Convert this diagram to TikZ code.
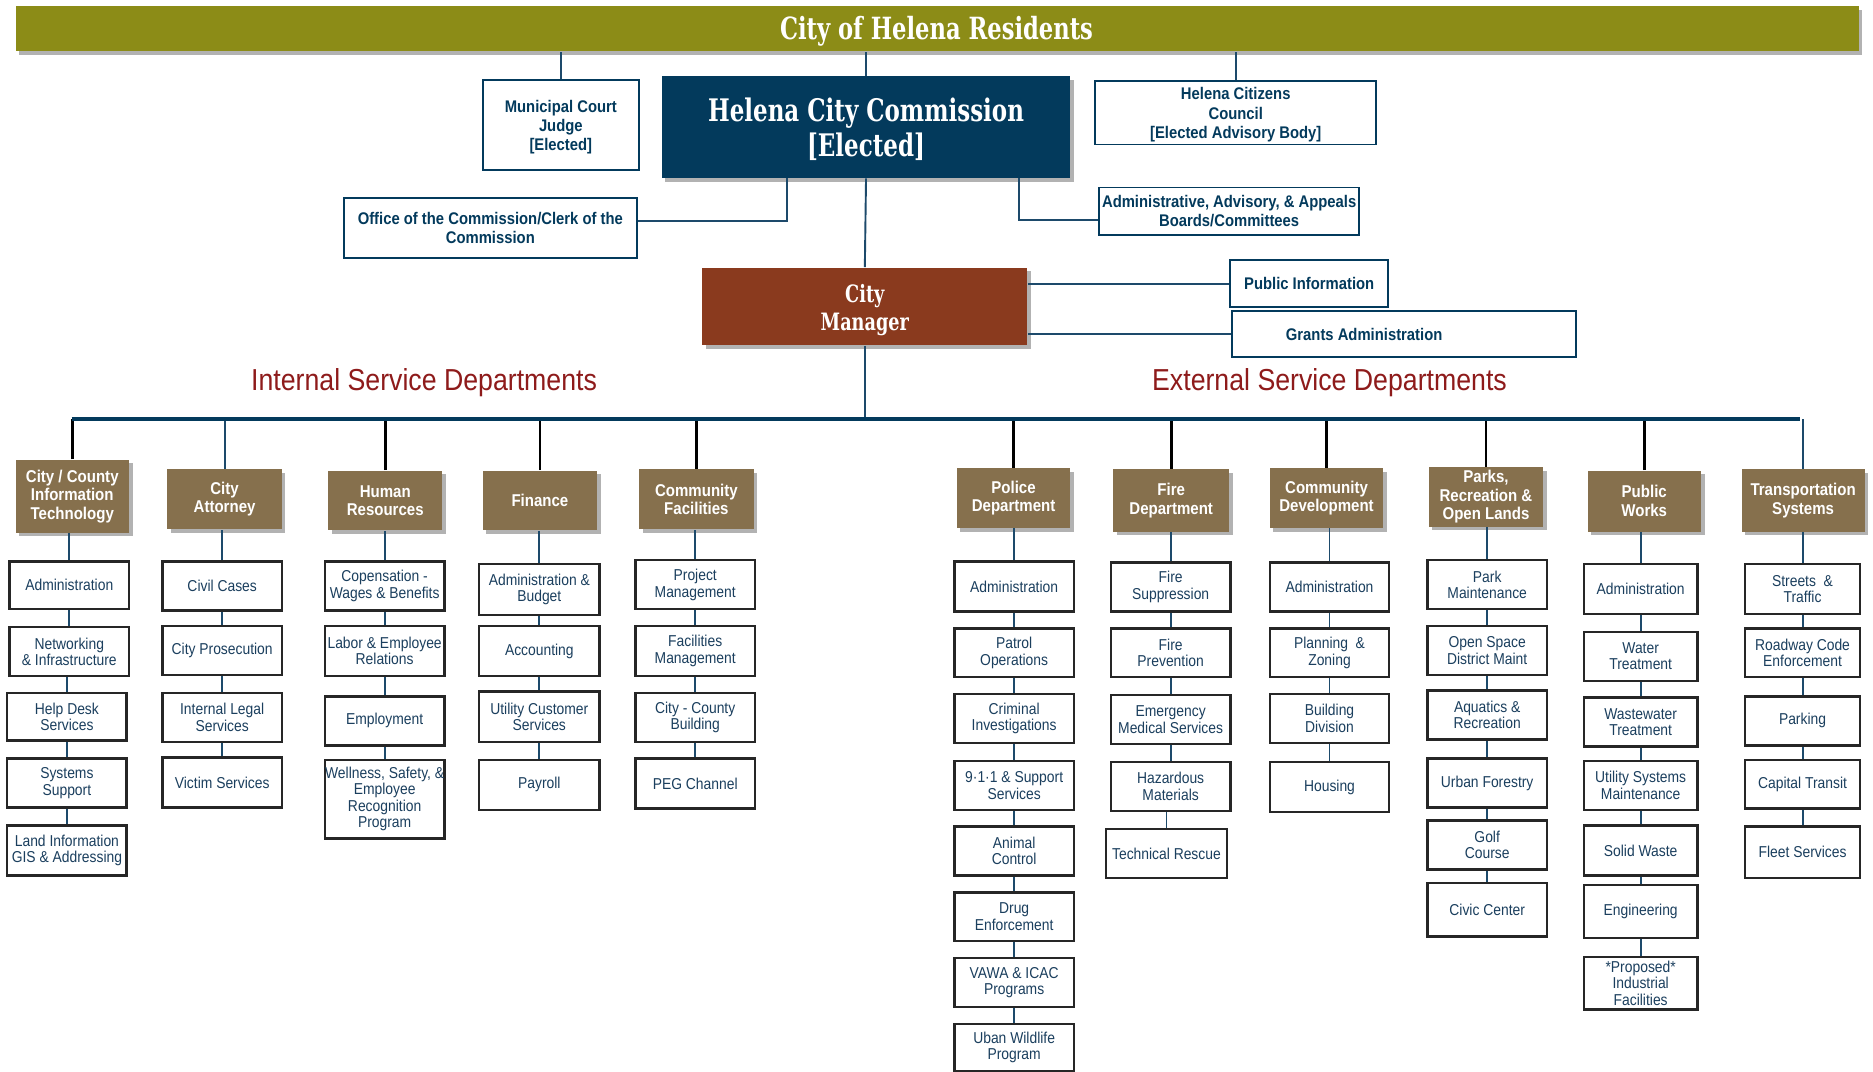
\documentclass[tikz,border=0pt]{standalone}
\usepackage{fontspec}
\setmainfont[FakeStretch=0.88]{Liberation Sans}
\newfontfamily\slab[FakeStretch=0.74]{DejaVu Serif}
\usetikzlibrary{shadows}
\definecolor{hOlive}{HTML}{8C8C17}
\definecolor{hNavy}{HTML}{033A5C}
\definecolor{hRust}{HTML}{8A3A1E}
\definecolor{hBrown}{HTML}{86704D}
\definecolor{hRed}{HTML}{8E1B1B}
\definecolor{tNavy}{HTML}{1B3F5E}
\definecolor{cNavy}{HTML}{1D4A6B}
\newcommand\mkbox[7]{\node[#1, minimum width={(#5-#3)*0.5pt}, minimum height={(#6-#4)*0.5pt}] (#2) at ({(#3+#5)/2},{(#4+#6)/2}) {#7};}
\tikzset{
  shad/.style={drop shadow={shadow xshift=1.5pt,shadow yshift=-1.5pt,opacity=0.3,fill=black}},
  sub/.style={draw=black!85, line width=1pt, fill=white, text=tNavy, align=center, inner sep=0pt,
    font=\fontsize{6.6}{6.9}\selectfont},
  hdr/.style={shad, fill=hBrown, text=white, align=center, inner sep=0pt,
    font=\bfseries\fontsize{7.15}{7.75}\selectfont},
  topbox/.style={draw=hNavy, line width=0.8pt, fill=white, text=hNavy, align=center, inner sep=0pt,
    font=\bfseries\fontsize{7.05}{8}\selectfont},
  toptext/.style={text=hNavy, align=center, inner sep=0pt, font=\bfseries\fontsize{7.05}{8}\selectfont},
  conn/.style={draw=cNavy, line width=0.8pt},
  drop/.style={draw=black, line width=1.1pt},
  dropn/.style={draw=cNavy, line width=0.8pt},
  bus/.style={draw=hNavy, line width=1.6pt},
  sect/.style={text=hRed, font=\fontsize{12.7}{14}\selectfont},
}
\begin{document}
\begin{tikzpicture}[x=0.5pt,y=-0.5pt]
\useasboundingbox (0,0) rectangle (1568,897);
% banner
\mkbox{shad, fill=hOlive, inner sep=0pt}{banner}{13}{5}{1556}{43}{}
\node[text=white, inner sep=0pt, font=\slab\bfseries\fontsize{12.8}{14}\selectfont] (bannerT) at (784,26) {City of Helena Residents};
% top boxes
\mkbox{topbox}{judge}{404}{67}{535}{142}{}
\node[toptext] (judgeT) at (469.5,106.5) {Municipal Court\\Judge\\{}[Elected]};
\mkbox{shad, fill=hNavy, inner sep=0pt}{comm}{554}{64}{896}{149}{}
\node[text=white, align=center, inner sep=0pt, font=\slab\bfseries\fontsize{13}{14.5}\selectfont] (commT) at (725,108) {Helena City Commission\\{}[Elected]};
\mkbox{topbox}{council}{917}{68}{1152}{121}{}
\node[toptext] (councilT) at (1034.5,96) {Helena Citizens\\Council\\{}[Elected Advisory Body]};
\mkbox{topbox}{office}{288}{166}{533}{216}{Office of the Commission/Clerk of the\\Commission}
\mkbox{topbox}{boards}{920}{157}{1138}{197}{Administrative, Advisory, \& Appeals\\Boards/Committees}
\mkbox{shad, fill=hRust, inner sep=0pt}{mgr}{588}{224}{860}{289}{}
\node[text=white, align=center, inner sep=0pt, font=\slab\bfseries\fontsize{10}{12}\selectfont] (mgrT) at (724,259.5) {City\\Manager};
\mkbox{topbox}{pubinfo}{1030}{218}{1162}{257}{Public Information}
\mkbox{topbox}{grants}{1031}{260}{1319}{299}{}
\node[toptext] (grantsT) at (1142,280) {Grants Administration};
% top connectors
\draw[conn] (judge.north) -- (judge.north |- banner.south);
\draw[conn] (comm.north) -- (comm.north |- banner.south);
\draw[conn] (council.north) -- (council.north |- banner.south);
\draw[conn] ([xshift=-33pt]comm.south) |- ([yshift=3pt]office.east);
\draw[conn] ([xshift=64pt]comm.south) |- ([yshift=-3.5pt]boards.west);
\draw[conn] (comm.south) -- (mgr.north);
\draw[conn] (mgr.east |- pubinfo.west) -- (pubinfo.west);
\draw[conn] (mgr.east |- grants.west) -- (grants.west);
% section labels
\node[sect] (intl) at (355,320) {Internal Service Departments};
\node[sect] (extl) at (1113,320) {External Service Departments};
% headers
\mkbox{hdr}{h1}{13}{385}{108}{446}{City / County\\Information\\Technology}
\mkbox{hdr}{h2}{140}{393}{236}{443}{City\\Attorney}
\mkbox{hdr}{h3}{275}{394}{370}{444}{Human\\Resources}
\mkbox{hdr}{h4}{404}{394}{500}{444}{Finance}
\mkbox{hdr}{h5}{535}{393}{631}{443}{Community\\Facilities}
\mkbox{hdr}{h6}{801}{392}{896}{442}{Police\\Department}
\mkbox{hdr}{h7}{932}{393}{1029}{445}{Fire\\Department}
\mkbox{hdr}{h8}{1063}{392}{1158}{442}{Community\\Development}
\mkbox{hdr}{h9}{1196}{391}{1292}{441}{Parks,\\Recreation \&\\Open Lands}
\mkbox{hdr}{h10}{1329}{394}{1424}{445}{Public\\Works}
\mkbox{hdr}{h11}{1458}{393}{1561}{445}{Transportation\\Systems}
% bus
\coordinate (busL) at (60,351);
\coordinate (busR) at (1507,351);
\draw[conn] (mgr.south) -- (mgr.south |- busL);
\foreach \h in {h1,h3,h4,h5,h6,h7,h8,h9,h10} \draw[drop] (\h.north) -- (\h.north |- busL);
\foreach \h in {h2,h11} \draw[dropn] (\h.north) -- (\h.north |- busL);
\draw[bus] (busL) -- (busR);
% column 1
\mkbox{sub}{a1}{8}{470}{108}{510}{Administration}
\mkbox{sub}{a2}{8}{525}{108}{566}{Networking\\\& Infrastructure}
\mkbox{sub}{a3}{6}{580}{106}{620}{Help Desk\\Services}
\mkbox{sub}{a4}{6}{635}{106}{676}{Systems\\Support}
\mkbox{sub}{a5}{6}{691}{106}{733}{Land Information\\GIS \& Addressing}
% column 2
\mkbox{sub}{b1}{136}{470}{236}{511}{Civil Cases}
\mkbox{sub}{b2}{136}{524}{236}{565}{City Prosecution}
\mkbox{sub}{b3}{136}{580}{236}{621}{Internal Legal\\Services}
\mkbox{sub}{b4}{136}{634}{236}{676}{Victim Services}
% column 3
\mkbox{sub}{c1}{272}{470}{372}{511}{Copensation -\\Wages \& Benefits}
\mkbox{sub}{c2}{272}{524}{372}{566}{Labor \& Employee\\Relations}
\mkbox{sub}{c3}{272}{583}{372}{624}{Employment}
\mkbox{sub}{c4}{272}{636}{372}{702}{Wellness, Safety, \&\\Employee\\Recognition\\Program}
% column 4
\mkbox{sub}{d1}{401}{472}{502}{515}{Administration \&\\Budget}
\mkbox{sub}{d2}{401}{524}{502}{566}{Accounting}
\mkbox{sub}{d3}{401}{579}{502}{621}{Utility Customer\\Services}
\mkbox{sub}{d4}{401}{636}{502}{678}{Payroll}
% column 5
\mkbox{sub}{e1}{532}{469}{632}{510}{Project\\Management}
\mkbox{sub}{e2}{532}{524}{632}{566}{Facilities\\Management}
\mkbox{sub}{e3}{532}{580}{632}{621}{City - County\\Building}
\mkbox{sub}{e4}{532}{635}{632}{677}{PEG Channel}
% column 6
\mkbox{sub}{f1}{799}{470}{899}{512}{Administration}
\mkbox{sub}{f2}{799}{526}{899}{567}{Patrol\\Operations}
\mkbox{sub}{f3}{799}{581}{899}{622}{Criminal\\Investigations}
\mkbox{sub}{f4}{799}{637}{899}{678}{9·1·1 \& Support\\Services}
\mkbox{sub}{f5}{799}{692}{899}{733}{Animal\\Control}
\mkbox{sub}{f6}{799}{747}{899}{788}{Drug\\Enforcement}
\mkbox{sub}{f7}{799}{802}{899}{843}{VAWA \& ICAC\\Programs}
\mkbox{sub}{f8}{799}{857}{899}{897}{Uban Wildlife\\Program}
% column 7
\mkbox{sub}{g1}{930}{471}{1030}{512}{Fire\\Suppression}
\mkbox{sub}{g2}{930}{526}{1030}{567}{Fire\\Prevention}
\mkbox{sub}{g3}{930}{582}{1030}{623}{Emergency\\Medical Services}
\mkbox{sub}{g4}{930}{638}{1030}{679}{Hazardous\\Materials}
\mkbox{sub}{g5}{926}{694}{1027}{735}{Technical Rescue}
% column 8
\mkbox{sub}{k1}{1063}{471}{1163}{512}{Administration}
\mkbox{sub}{k2}{1063}{526}{1163}{567}{Planning \ \&\\Zoning}
\mkbox{sub}{k3}{1063}{581}{1163}{622}{Building\\Division}
\mkbox{sub}{k4}{1063}{638}{1163}{680}{Housing}
% column 9
\mkbox{sub}{m1}{1195}{469}{1295}{510}{Park\\Maintenance}
\mkbox{sub}{m2}{1195}{524}{1295}{565}{Open Space\\District Maint}
\mkbox{sub}{m3}{1195}{578}{1295}{619}{Aquatics \&\\Recreation}
\mkbox{sub}{m4}{1195}{635}{1295}{676}{Urban Forestry}
\mkbox{sub}{m5}{1195}{687}{1295}{728}{Golf\\Course}
\mkbox{sub}{m6}{1195}{739}{1295}{784}{Civic Center}
% column 10
\mkbox{sub}{p1}{1326}{472}{1421}{514}{Administration}
\mkbox{sub}{p2}{1326}{529}{1421}{570}{Water\\Treatment}
\mkbox{sub}{p3}{1326}{584}{1421}{625}{Wastewater\\Treatment}
\mkbox{sub}{p4}{1326}{637}{1421}{678}{Utility Systems\\Maintenance}
\mkbox{sub}{p5}{1326}{691}{1421}{733}{Solid Waste}
\mkbox{sub}{p6}{1326}{741}{1421}{785}{Engineering}
\mkbox{sub}{p7}{1326}{801}{1421}{845}{*Proposed*\\Industrial\\Facilities}
% column 11
\mkbox{sub}{q1}{1461}{472}{1557}{514}{Streets \ \&\\Traffic}
\mkbox{sub}{q2}{1461}{526}{1557}{567}{Roadway Code\\Enforcement}
\mkbox{sub}{q3}{1461}{583}{1557}{624}{Parking}
\mkbox{sub}{q4}{1461}{636}{1557}{677}{Capital Transit}
\mkbox{sub}{q5}{1461}{692}{1557}{735}{Fleet Services}
% column connectors
\foreach \a/\b in {h1/a1,a1/a2,a2/a3,a3/a4,a4/a5,
  h2/b1,b1/b2,b2/b3,b3/b4,
  h3/c1,c1/c2,c2/c3,c3/c4,
  h4/d1,d1/d2,d2/d3,d3/d4,
  h5/e1,e1/e2,e2/e3,e3/e4,
  h6/f1,f1/f2,f2/f3,f3/f4,f4/f5,f5/f6,f6/f7,f7/f8,
  h7/g1,g1/g2,g2/g3,g3/g4,g4/g5,
  h8/k1,k1/k2,k2/k3,k3/k4,
  h9/m1,m1/m2,m2/m3,m3/m4,m4/m5,m5/m6,
  h10/p1,p1/p2,p2/p3,p3/p4,p4/p5,p5/p6,p6/p7,
  h11/q1,q1/q2,q2/q3,q3/q4,q4/q5}
  \draw[conn] (\b.north) -- (\b.north |- \a.south);
\end{tikzpicture}
\end{document}
